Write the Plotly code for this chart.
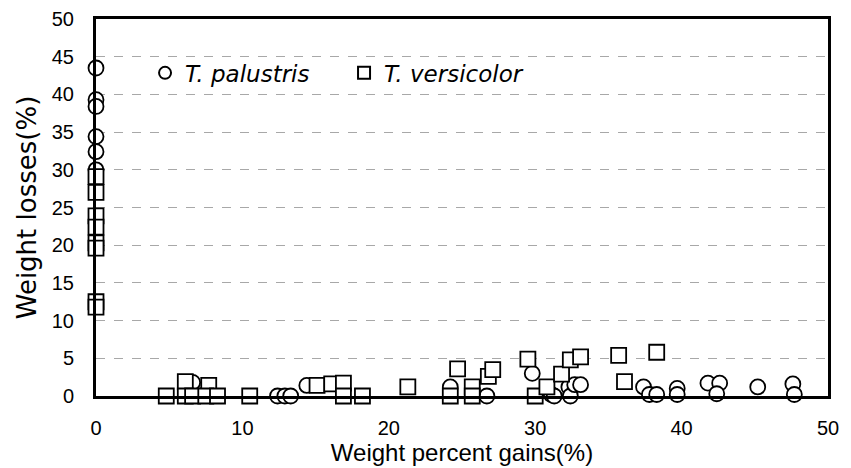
import plotly.graph_objects as go

# T. palustris (circles)
pal_x = [0, 0, 0, 0, 0, 0,
         6.6, 12.4, 12.9, 13.3, 14.4, 24.2, 26.7, 29.8, 31.1, 31.3,
         32.3, 32.4, 32.7, 33.1, 37.4, 37.8, 38.3, 39.7, 39.7,
         41.8, 42.6, 42.4, 45.2, 47.6, 47.7]
pal_y = [43.5, 39.3, 38.4, 34.4, 32.4, 30.0,
         1.8, 0, 0, 0, 1.4, 1.2, 0, 3.0, 0.2, 0,
         1.2, 0, 1.5, 1.5, 1.2, 0.2, 0.2, 1.0, 0.2,
         1.7, 1.7, 0.3, 1.2, 1.6, 0.2]

# T. versicolor (squares)
ver_x = [0, 0, 0, 0, 0, 0, 0, 0,
         4.8, 6.1, 7.7, 6.1, 6.6, 7.5, 8.3, 10.5,
         15.1, 16.1, 16.9, 16.9, 18.2, 21.3,
         24.2, 24.7, 25.7, 25.7, 26.8, 27.1,
         29.5, 30.0, 30.8, 31.8, 32.4, 33.1, 35.7, 36.1, 38.3]
ver_y = [29.1, 27.0, 23.9, 22.4, 20.3, 19.6, 12.5, 11.8,
         0, 1.9, 1.4, 0, 0, 0, 0, 0,
         1.4, 1.6, 1.7, 0, 0, 1.2,
         0, 3.6, 1.2, 0, 2.6, 3.5,
         4.9, 0, 1.2, 2.9, 4.8, 5.2, 5.4, 1.9, 5.8]

tick_vals = [0, 10, 20, 30, 40, 50]
ytick_vals = [0, 5, 10, 15, 20, 25, 30, 35, 40, 45, 50]

fig = go.Figure()
fig.add_trace(go.Scatter(
    x=pal_x, y=pal_y, mode="markers", name="T. palustris",
    marker=dict(symbol="circle", size=15, color="white",
                line=dict(color="black", width=1.8)),
    cliponaxis=False))
fig.add_trace(go.Scatter(
    x=ver_x, y=ver_y, mode="markers", name="T. versicolor",
    marker=dict(symbol="square", size=15, color="white",
                line=dict(color="black", width=1.8)),
    cliponaxis=False))

font_main = "Liberation Sans, Arial, sans-serif"

fig.update_layout(
    width=851, height=468,
    margin=dict(l=96, r=23, t=19, b=72),
    paper_bgcolor="white", plot_bgcolor="white",
    font=dict(family=font_main, color="black", size=16),
    showlegend=True,
    legend=dict(orientation="h", x=0.067, y=0.857, xanchor="left", yanchor="middle",
                bgcolor="rgba(0,0,0,0)",
                font=dict(size=23, style="italic", family="DejaVu Sans, sans-serif"),
                itemsizing="constant", entrywidth=154, entrywidthmode="pixels"),
    xaxis=dict(range=[0, 50], tickvals=tick_vals, showgrid=False, zeroline=False,
               showline=True, linecolor="black", linewidth=3, mirror=True,
               ticks="outside", ticklen=12, tickcolor="rgba(0,0,0,0)",
               tickfont=dict(size=20), automargin=False,
               title=dict(text="Weight percent gains(%)", font=dict(size=24), standoff=1)),
    yaxis=dict(range=[0, 50], tickvals=ytick_vals, showgrid=True,
               gridcolor="#a8a8a8", griddash="dash", gridwidth=1, zeroline=False,
               showline=True, linecolor="black", linewidth=3, mirror=True,
               ticks="outside", ticklen=15, tickcolor="rgba(0,0,0,0)",
               tickfont=dict(size=20), automargin=False,
               title=dict(text="Weight losses(%)",
                          font=dict(size=26, family="DejaVu Sans, sans-serif"), standoff=8)),
)

fig.write_html("out.html", config={"displayModeBar": False},
               post_script="document.body.style.margin='0px';")
